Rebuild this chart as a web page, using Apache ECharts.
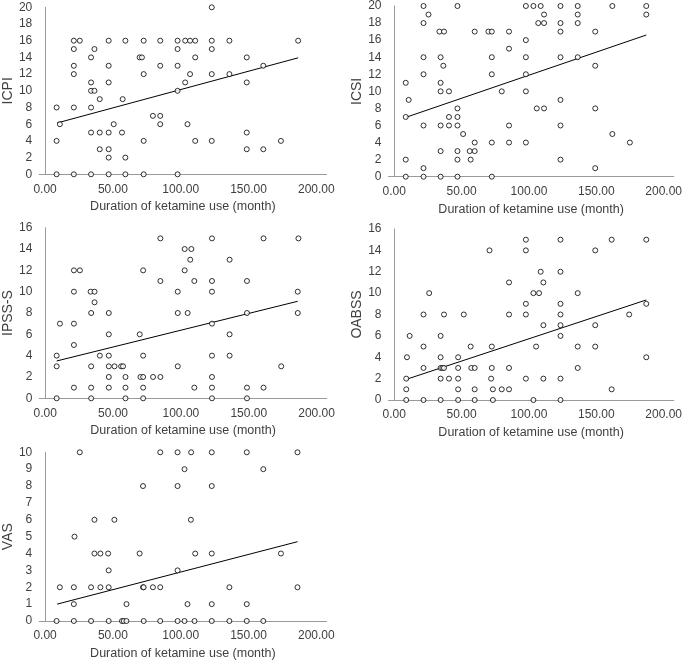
<!DOCTYPE html>
<html><head><meta charset="utf-8">
<script src="https://cdn.jsdelivr.net/npm/echarts@6/dist/echarts.min.js"></script>
<style>html,body{margin:0;padding:0;background:#fff}#c{width:685px;height:661px}</style>
</head><body><div id="c"></div>
<script>
const xTitle = 'Duration of ketamine use (month)';
const xTickValues = [0, 50, 100, 150, 200];

const icpiPoints = [
[8.5,0],[21.2,0],[33.9,0],[46.9,0],[59.2,0],[72.7,0],[97.7,0],
[46.9,2],[59.2,2],
[40.3,3],[46.9,3],[148.7,3],[160.9,3],
[8.5,4],[72.7,4],[110.7,4],[122.9,4],[173.9,4],
[33.9,5],[40.3,5],[46.9,5],[56.7,5],[148.7,5],
[10.9,6],[50.6,6],[84.9,6],[105.0,6],
[79.5,7],[84.9,7],
[8.5,8],[21.2,8],[33.9,8],
[40.3,9],[57.2,9],
[33.9,10],[36.4,10],[97.7,10],
[33.9,11],[46.9,11],[103.3,11],[148.7,11],
[21.2,12],[72.7,12],[106.9,12],[122.9,12],[135.9,12],
[21.2,13],[46.9,13],[84.9,13],[97.7,13],[160.9,13],
[33.9,14],[69.7,14],[71.4,14],[110.7,14],[148.7,14],
[21.2,15],[36.4,15],[97.7,15],[122.9,15],
[21.2,16],[25.6,16],[46.9,16],[59.2,16],[72.7,16],[84.9,16],[97.7,16],[103.3,16],[106.9,16],[110.7,16],[122.9,16],[135.9,16],[186.6,16],
[122.9,20]
];
const icpiTrend = [[8.9,6.15],[186.6,13.95]];

const icsiPoints = [
[8.5,0],[21.7,0],[34.4,0],[46.9,0],[72.4,0],
[21.7,1],[149.2,1],
[8.5,2],[46.9,2],[56.7,2],[123.4,2],
[34.4,3],[46.9,3],[56.0,3],[59.7,3],
[59.7,4],[72.4,4],[85.2,4],[97.7,4],[174.9,4],
[51.1,5],[161.9,5],
[21.7,6],[34.4,6],[40.6,6],[46.9,6],[85.2,6],[123.4,6],
[8.5,7],[40.6,7],[46.9,7],
[46.9,8],[105.8,8],[111.2,8],[149.2,8],
[10.7,9],[123.4,9],
[34.4,10],[40.6,10],[79.8,10],[97.7,10],
[8.5,11],[34.4,11],
[21.7,12],[72.4,12],[97.7,12],
[36.4,13],[149.2,13],
[21.7,14],[34.4,14],[72.4,14],[97.7,14],[123.4,14],[136.2,14],
[85.2,15],
[97.7,16],
[33.5,17],[36.9,17],[59.7,17],[69.9,17],[72.4,17],[85.2,17],[123.4,17],[149.2,17],
[21.7,18],[106.9,18],[111.2,18],[123.4,18],[136.2,18],
[25.4,19],[111.2,19],[136.2,19],[187.1,19],
[21.7,20],[46.9,20],[97.7,20],[103.3,20],[108.7,20],[123.4,20],[136.2,20],[161.9,20],[187.1,20]
];
const icsiTrend = [[8.5,6.95],[187.1,16.6]];

const ipssPoints = [
[8.5,0],[33.9,0],[59.2,0],[72.2,0],[122.9,0],[148.7,0],
[21.2,1],[33.9,1],[46.9,1],[59.2,1],[72.2,1],[109.9,1],[122.9,1],[148.7,1],[160.9,1],
[46.9,2],[59.2,2],[70.2,2],[72.2,2],[79.5,2],[84.9,2],[122.9,2],
[8.5,3],[33.9,3],[46.9,3],[51.1,3],[56.0,3],[57.4,3],[97.7,3],[173.9,3],
[8.5,4],[40.3,4],[46.9,4],[72.2,4],[122.9,4],[135.9,4],
[21.2,5],
[46.9,6],[69.7,6],[135.9,6],
[10.9,7],[21.2,7],[122.9,7],
[33.9,8],[46.9,8],[97.7,8],[105.0,8],[148.7,8],[186.1,8],
[36.4,9],
[21.2,10],[33.5,10],[36.4,10],[97.7,10],[122.9,10],[186.1,10],
[84.9,11],[109.9,11],[122.9,11],[148.7,11],
[21.2,12],[25.6,12],[72.2,12],[102.8,12],
[106.9,13],[135.9,13],
[102.8,14],[107.7,14],
[84.9,15],[122.9,15],[160.9,15],[186.6,15]
];
const ipssTrend = [[8.5,3.5],[186.1,9.1]];

const oabssPoints = [
[8.9,0],[21.7,0],[34.4,0],[47.4,0],[59.7,0],[73.2,0],[103.3,0],[123.4,0],
[8.9,1],[47.4,1],[59.7,1],[73.2,1],[79.8,1],[85.2,1],[161.4,1],
[8.9,2],[34.4,2],[40.6,2],[47.4,2],[71.9,2],[97.7,2],[110.7,2],[123.4,2],
[21.7,3],[34.4,3],[35.7,3],[36.9,3],[47.4,3],[57.2,3],[59.7,3],[72.4,3],[85.2,3],[136.2,3],
[9.4,4],[34.4,4],[47.4,4],[187.1,4],
[21.7,5],[56.7,5],[72.4,5],[105.3,5],[136.2,5],[149.2,5],
[11.4,6],[34.4,6],[123.4,6],
[110.7,7],[123.4,7],[149.2,7],
[21.7,8],[36.9,8],[51.6,8],[85.2,8],[97.7,8],[123.4,8],[174.4,8],
[97.7,9],[123.4,9],[187.1,9],
[25.9,10],[103.3,10],[107.5,10],[136.2,10],
[85.2,11],[110.7,11],
[108.7,12],[123.4,12],
[70.7,14],[97.7,14],[149.2,14],
[97.7,15],[123.4,15],[161.4,15],[187.1,15]
];
const oabssTrend = [[8.9,1.93],[187.1,9.36]];

const vasPoints = [
[8.5,0],[21.2,0],[33.9,0],[46.9,0],[56.7,0],[58.0,0],[60.0,0],[72.7,0],[84.9,0],[97.7,0],[102.8,0],[110.2,0],[122.9,0],[135.9,0],[148.7,0],[160.9,0],
[21.2,1],[60.0,1],[105.0,1],[122.9,1],[148.7,1],
[10.9,2],[21.2,2],[33.9,2],[40.8,2],[46.9,2],[72.2,2],[72.7,2],[79.5,2],[84.9,2],[135.9,2],[186.1,2],
[46.9,3],[97.7,3],
[36.4,4],[40.8,4],[46.5,4],[69.7,4],[110.7,4],[122.9,4],[173.9,4],
[21.7,5],
[36.4,6],[51.1,6],[107.5,6],
[72.2,8],[97.7,8],[122.9,8],
[102.8,9],[160.9,9],
[25.6,10],[84.9,10],[97.7,10],[107.7,10],[122.9,10],[148.7,10],[186.1,10]
];
const vasTrend = [[8.9,1.0],[186.1,4.7]];

const panels = [
  {name:'ICPI',   pts:icpiPoints,  trend:icpiTrend,  yMax:20, yStep:2, grid:{left:39,   top:7.3, width:287.5, height:167}},
  {name:'ICSI',   pts:icsiPoints,  trend:icsiTrend,  yMax:20, yStep:2, grid:{left:388.5,top:6,   width:287,   height:170.7}},
  {name:'IPSS-S', pts:ipssPoints,  trend:ipssTrend,  yMax:16, yStep:2, grid:{left:39.3, top:227.7,width:287.5, height:170.6}},
  {name:'OABSS',  pts:oabssPoints, trend:oabssTrend, yMax:16, yStep:2, grid:{left:388.5,top:229, width:287,   height:171}},
  {name:'VAS',    pts:vasPoints,   trend:vasTrend,   yMax:10, yStep:1, grid:{left:39,   top:452.3,width:287.5, height:171}}
];

const FONT = 'Liberation Sans, Arial, sans-serif';
const TXT = '#404040';
const AX = '#9a9a9a';

const option = {
  animation:false,
  backgroundColor:'#fff',
  grid: panels.map(p => Object.assign({containLabel:false}, p.grid)),
  xAxis: panels.map((p,i) => ({
    type:'value', gridIndex:i, min:-4.3, max:207.5,
    name:xTitle, nameLocation:'middle', nameGap:26,
    nameTextStyle:{fontFamily:FONT, fontSize:12.5, color:TXT},
    axisLine:{show:true, lineStyle:{color:AX, width:1}},
    axisTick:{show:false},
    splitLine:{show:false},
    axisLabel:{customValues:xTickValues, formatter:v=>Number(v).toFixed(2), fontFamily:FONT, fontSize:12, color:TXT, margin:9, showMinLabel:true, showMaxLabel:true}
  })),
  yAxis: panels.map((p,i) => ({
    type:'value', gridIndex:i, min:0, max:p.yMax, interval:p.yStep,
    name:p.name, nameLocation:'middle', nameGap:24, nameRotate:90,
    nameTextStyle:{fontFamily:FONT, fontSize:14, color:TXT},
    axisLine:{show:true, lineStyle:{color:AX, width:1}},
    axisTick:{show:false},
    splitLine:{show:false},
    axisLabel:{fontFamily:FONT, fontSize:12, color:TXT, margin:7}
  })),
  series: panels.flatMap((p,i) => [
    {type:'scatter', xAxisIndex:i, yAxisIndex:i, data:p.pts, symbol:'circle', symbolSize:5, clip:false,
     itemStyle:{color:'#fff', borderColor:'#000', borderWidth:1}, z:3},
    {type:'line', xAxisIndex:i, yAxisIndex:i, data:p.trend, showSymbol:false, symbol:'none', clip:false,
     lineStyle:{color:'#000', width:1}, z:2}
  ])
};
const chart = echarts.init(document.getElementById('c'), null, {renderer:'canvas'});
chart.setOption(option);
</script>
</body></html>
